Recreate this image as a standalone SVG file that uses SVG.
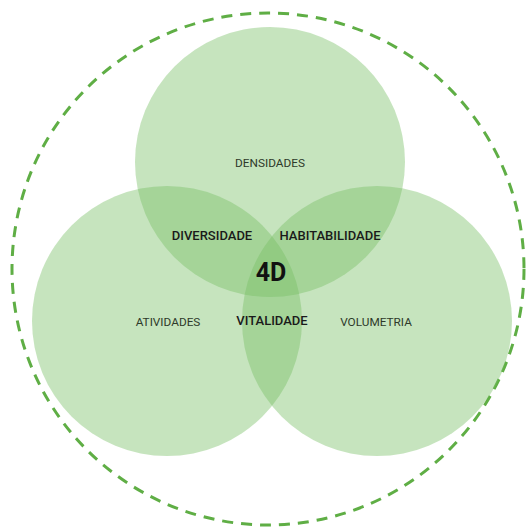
<svg xmlns="http://www.w3.org/2000/svg" width="528" height="529" viewBox="0 0 528 529">
<style>
.c{fill:rgb(120,190,100);fill-opacity:0.42}
.t{font-family:Roboto,"Liberation Sans",sans-serif;text-anchor:middle;fill:#2e3a2a}
.s{font-size:11.8px}
.m{font-size:13px;font-weight:500;fill:#1a1a1a}
</style>
<rect width="528" height="529" fill="#fff"/>
<g id="boundary"><circle cx="268" cy="269" r="256" fill="none" stroke="#5fae45" stroke-width="3" stroke-dasharray="11 8"/></g>
<g id="densidades"><circle class="c" cx="270" cy="162" r="135"/><text class="t s" x="270" y="167">DENSIDADES</text></g>
<g id="atividades"><circle class="c" cx="167" cy="321" r="135"/><text class="t s" x="168" y="326">ATIVIDADES</text></g>
<g id="volumetria"><circle class="c" cx="377" cy="321" r="135"/><text class="t s" x="376" y="326">VOLUMETRIA</text></g>
<g id="diversidade"><text class="t m" x="212" y="240">DIVERSIDADE</text></g>
<g id="habitabilidade"><text class="t m" x="330" y="240">HABITABILIDADE</text></g>
<g id="vitalidade"><text class="t m" x="272" y="325">VITALIDADE</text></g>
<g id="center"><text class="t" x="271" y="281" style="font-size:25px;font-weight:700;fill:#111">4D</text></g>
<g id="connectors"/>
</svg>
